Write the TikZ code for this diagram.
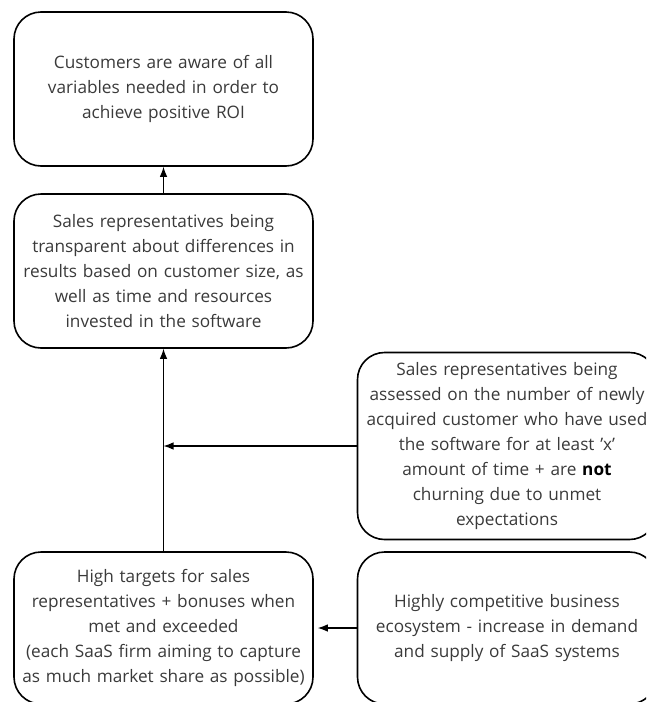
\documentclass[tikz,border=0pt]{standalone}
\usepackage{fontspec}
\setmainfont{Open Sans}
\usepackage{xcolor}
\usepackage{tikz}
\usetikzlibrary{arrows.meta}
\definecolor{boxtext}{HTML}{3A3A3A}

\begin{document}
\begin{tikzpicture}[x=1pt,y=-1pt,>={Latex[length=10pt,width=7.5pt]},
	box/.style={draw=black,line width=1.6pt,rounded corners=27pt,text=boxtext,
		align=center,text width=299pt,inner xsep=0pt,inner ysep=0pt,
		font=\fontsize{17.2}{25}\selectfont},
	link/.style={->,line width=1.1pt}]
	\path[use as bounding box,clip] (0,0) rectangle (646,702);
	\node at (163.5,89) (customers) [box,minimum height=154pt] {Customers are aware of all\\ variables needed in order to\\ achieve positive ROI};
	\node at (163.5,271) (transparent) [box,minimum height=154pt] {Sales representatives being\\ transparent about differences in\\ results based on customer size, as\\ well as time and resources\\ invested in the software};
	\node at (507,446) (assessed) [box,minimum height=187pt] {Sales representatives being\\ assessed on the number of newly\\ acquired customer who have used\\ the software for at least 'x'\\ amount of time + are \textcolor{black}{\textbf{not}}\\ churning due to unmet\\ expectations};
	\node at (163.5,628) (targets) [box,minimum height=152pt] {High targets for sales\\ representatives + bonuses when\\ met and exceeded\\ (each SaaS firm aiming to capture\\ as much market share as possible)};
	\node at (507,628) (ecosystem) [box,minimum height=152pt] {Highly competitive business\\ ecosystem - increase in demand\\ and supply of SaaS systems};
	\coordinate (join) at (assessed.west -| targets.north);
	\draw [link] (transparent) -- (customers);
	\draw [link] (targets) -- (transparent);
	\draw [link] (assessed.west) -- (join);
	\draw [link,shorten >=4pt] (ecosystem) -- (targets);
\end{tikzpicture}
\end{document}
